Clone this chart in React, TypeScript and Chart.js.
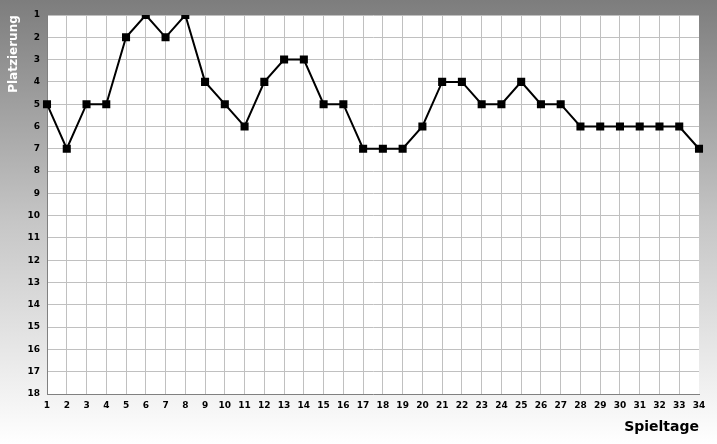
import React, { useEffect, useRef } from "react";
import { Chart, registerables } from "chart.js";
Chart.register(...registerables);

const spieltage = Array.from({ length: 34 }, (_, i) => String(i + 1));
const platzierung = [5, 7, 5, 5, 2, 1, 2, 1, 4, 5, 6, 4, 3, 3, 5, 5, 7, 7, 7, 6, 4, 4, 5, 5, 4, 5, 5, 6, 6, 6, 6, 6, 6, 7];
const yTitle = "Platzierung";
const xTitle = "Spieltage";

const bgPlugin = {
  id: "bg",
  beforeDraw(chart: any) {
    const { ctx, width, height, chartArea } = chart;
    ctx.save();
    const g = ctx.createLinearGradient(0, 0, 0, height);
    g.addColorStop(0, "#7d7d7d");
    g.addColorStop(0.5, "#c6c6c6");
    g.addColorStop(1, "#ffffff");
    ctx.fillStyle = g;
    ctx.fillRect(0, 0, width, height);
    ctx.fillStyle = "#ffffff";
    ctx.fillRect(chartArea.left, chartArea.top, chartArea.right - chartArea.left, chartArea.bottom - chartArea.top);
    ctx.restore();
  },
  afterDraw(chart: any) {
    const { ctx } = chart;
    ctx.save();
    ctx.font = "bold 12px 'DejaVu Sans'";
    ctx.fillStyle = "#ffffff";
    ctx.translate(14, 54);
    ctx.rotate(-Math.PI / 2);
    ctx.textAlign = "center";
    ctx.textBaseline = "middle";
    ctx.fillText(yTitle, 0, 0);
    ctx.restore();
    ctx.save();
    ctx.font = "bold 14px 'DejaVu Sans'";
    ctx.fillStyle = "#000000";
    ctx.textAlign = "right";
    ctx.textBaseline = "middle";
    ctx.fillText(xTitle, 699, 427);
    ctx.restore();
  },
};

export default function App() {
  const ref = useRef<HTMLCanvasElement>(null);
  useEffect(() => {
    const chart = new Chart(ref.current!, {
      type: "line",
      data: {
        labels: spieltage,
        datasets: [
          {
            data: platzierung,
            borderColor: "#000000",
            borderWidth: 2,
            pointStyle: "rect",
            pointRadius: 5.7,
            pointBackgroundColor: "#000000",
            pointBorderColor: "#000000",
            pointBorderWidth: 0,
            tension: 0,
          },
        ],
      },
      options: {
        animation: false,
        responsive: false,
        maintainAspectRatio: false,
        layout: { padding: { top: 15, right: 18, left: 0, bottom: 0 } },
        plugins: { legend: { display: false }, tooltip: { enabled: false } },
        scales: {
          x: {
            offset: false,
            grid: {
              color: (c: any) => (c.index === spieltage.length - 1 ? "rgba(0,0,0,0)" : "#c0c0c0"),
              lineWidth: 1,
              drawTicks: false,
            },
            border: { color: "#808080", width: 1 },
            ticks: { color: "#000000", font: { family: "'DejaVu Sans'", size: 9, weight: "bold" }, padding: 6, maxRotation: 0, autoSkip: false },
            afterFit(scale: any) { scale.height = 50; },
          },
          y: {
            reverse: true,
            min: 1,
            max: 18,
            grid: {
              color: (c: any) => (c.index === 0 ? "rgba(0,0,0,0)" : "#c0c0c0"),
              lineWidth: 1,
              drawTicks: false,
            },
            border: { color: "#808080", width: 1 },
            ticks: { stepSize: 1, color: "#000000", font: { family: "'DejaVu Sans'", size: 9, weight: "bold" }, padding: 7 },
            afterFit(scale: any) { scale.width = 47; },
          },
        },
      },
      plugins: [bgPlugin],
    });
    return () => chart.destroy();
  }, []);
  return (
    <div style={{ position: "fixed", left: 0, top: 0, width: 717, height: 444 }}>
      <canvas ref={ref} width={717} height={444} style={{ display: "block" }} />
    </div>
  );
}
